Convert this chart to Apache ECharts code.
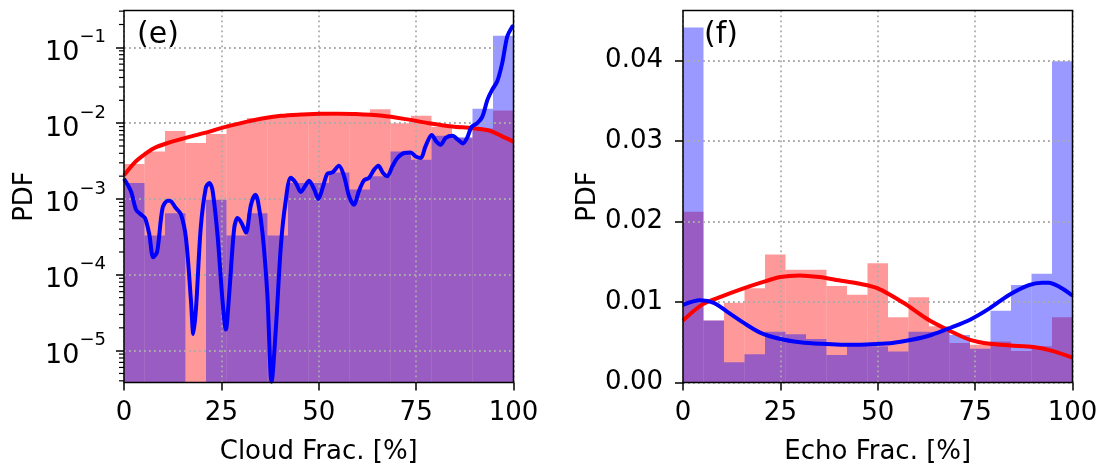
<!DOCTYPE html>
<html><head><meta charset="utf-8">
<script src="https://cdn.jsdelivr.net/npm/echarts@6/dist/echarts.min.js"></script>
<style>html,body{margin:0;padding:0;background:#fff}#c{width:1100px;height:464px}</style>
</head><body><div id="c"></div>
<script>
// ---------- data ----------
const binEdges = [0, 5.263, 10.526, 15.789, 21.053, 26.316, 31.579, 36.842, 42.105, 47.368, 52.632, 57.895, 63.158, 68.421, 73.684, 78.947, 84.211, 89.474, 94.737, 100];
const xTicks = [0, 25, 50, 75, 100];

// panel (e): Cloud fraction, log PDF
const cloudRedHist  = [0.0029, 0.00424, 0.0079, 0.00547, 0.0072, 0.0098, 0.0117, 0.0122, 0.0125, 0.0128, 0.0126, 0.0127, 0.0153, 0.0100, 0.0125, 0.0089, 0.0063, 0.0085, 0.0147];
const cloudBlueHist = [0.00163, 0.00033, 0.00065, null, 0.00098, 0.00033, 0.00065, 0.00033, 0.00163, 0.00163, 0.00224, 0.00133, 0.00199, 0.00424, 0.0033, 0.00682, 0.0065, 0.0155, 0.142];
const cloudRedKde = [[0,2.05e-3],[2.6,2.98e-3],[5.2,3.84e-3],[7.8,4.7e-3],[11.2,5.47e-3],[16.3,6.5e-3],[21.5,7.6e-3],[24.9,8.6e-3],[30,1.0e-2],[35.1,1.14e-2],[40.3,1.25e-2],[45.4,1.3e-2],[50.5,1.33e-2],[55,1.33e-2],[59.5,1.32e-2],[66.3,1.25e-2],[72.3,1.13e-2],[78.3,1.0e-2],[84.3,9.05e-3],[89.4,8.6e-3],[93.7,8.0e-3],[97.1,6.7e-3],[100,5.7e-3]];
const cloudBlueKde = [[0,1.85e-3],[1.8,1.26e-3],[3.1,7.2e-4],[4.4,6.2e-4],[5.4,5.6e-4],[6.5,3.4e-4],[7.5,1.7e-4],[8.5,2.0e-4],[9.9,7.6e-4],[11.2,9.5e-4],[12.1,9.3e-4],[13.3,7.6e-4],[14.6,6.3e-4],[15.9,3.06e-4],[17.2,4.5e-5],[17.8,1.66e-5],[18.5,3.7e-5],[19.7,4.15e-4],[21.0,1.4e-3],[21.9,1.63e-3],[22.7,1.33e-3],[24.0,3.4e-4],[25.3,4.5e-5],[26.15,1.9e-5],[27.0,5.5e-5],[28.3,4.15e-4],[29.15,5.6e-4],[30.2,4.8e-4],[31.3,3.6e-4],[32.6,8.4e-4],[33.7,1.14e-3],[34.4,9.3e-4],[35.6,3.4e-4],[36.8,5.5e-5],[37.9,3.9e-6],[39.0,2e-5],[40.3,2.5e-4],[41.5,9.3e-4],[42.8,1.9e-3],[44.1,1.63e-3],[45.4,1.24e-3],[46.7,1.54e-3],[47.5,1.74e-3],[48.8,1.35e-3],[49.9,1.0e-3],[51.0,1.4e-3],[52.2,2.15e-3],[53.5,2.24e-3],[55.2,2.75e-3],[56.5,2.0e-3],[57.8,1.08e-3],[59.0,8.4e-4],[60.3,1.26e-3],[61.6,1.76e-3],[62.9,1.9e-3],[64.2,2.43e-3],[65.3,2.75e-3],[66.5,2.2e-3],[67.6,2.0e-3],[68.9,2.7e-3],[70.2,3.47e-3],[71.9,4.04e-3],[73.6,4.1e-3],[74.9,3.64e-3],[76.2,3.47e-3],[77.4,4.93e-3],[79.0,7.0e-3],[80.2,5.7e-3],[81.3,5.2e-3],[82.6,6.4e-3],[84.3,6.8e-3],[85.8,6.0e-3],[87.0,5.4e-3],[88.1,6.4e-3],[89.2,8.9e-3],[90.7,1.0e-2],[92.0,1.22e-2],[93.3,2.03e-2],[94.5,2.75e-2],[95.8,3.54e-2],[97.1,6.2e-2],[98.4,0.139],[99.7,0.188],[100,0.19]];
const logTicks = [1e-5, 1e-4, 1e-3, 1e-2, 1e-1];

// panel (f): Echo fraction, linear PDF
const echoRedHist  = [0.0212, 0.0077, 0.0099, 0.0117, 0.0159, 0.014, 0.014, 0.012, 0.0109, 0.0148, 0.0081, 0.0106, 0.0070, 0.0049, 0.0047, 0.0051, 0.0039, 0.0045, 0.0081];
const echoBlueHist = [0.0441, 0.0077, 0.0025, 0.0035, 0.0063, 0.0060, 0.0054, 0.0034, 0.0046, 0.0045, 0.00385, 0.0063, 0.0063, 0.0059, 0.0042, 0.0089, 0.0121, 0.0135, 0.0399];
const echoRedKde = [[0,0.0077],[5,0.0097],[10,0.0107],[15,0.0116],[20,0.0124],[25,0.0131],[30,0.0133],[35,0.0131],[40,0.0127],[45,0.0123],[50,0.0117],[56.6,0.0099],[63,0.0078],[69,0.0063],[73.7,0.0053],[78.8,0.0048],[84,0.0046],[90,0.0044],[95,0.0039],[100,0.0031]];
const echoBlueKde = [[0,0.00965],[4.4,0.0102],[7.9,0.0099],[11.3,0.0088],[15.6,0.0074],[19.8,0.0062],[25,0.0054],[30.1,0.0050],[35.2,0.0048],[40.4,0.0047],[45.5,0.0047],[50.6,0.0048],[53.7,0.0049],[58.7,0.0053],[63.7,0.0059],[68.7,0.0068],[73.7,0.0078],[78.7,0.0092],[83.8,0.0109],[88.8,0.0121],[92.2,0.0124],[93.9,0.0124],[96.9,0.0118],[100,0.0108]];
const linTicks = [0, 0.01, 0.02, 0.03, 0.04];

// ---------- helpers ----------
const FONT = 'DejaVu Sans';
const FS = 26;
const LOG_MIN = 3.8e-6, LOG_MAX = 0.306;
const LIN_MAX = 0.0462;
const logMinor = [];
for (let e = -6; e <= -1; e++) for (let k = 2; k <= 9; k++) { const v = k * Math.pow(10, e); if (v > LOG_MIN && v < LOG_MAX) logMinor.push(v); }

function histData(h) {
  const out = [];
  h.forEach((v, i) => { if (v != null && v > 0) out.push([binEdges[i], binEdges[i + 1], v]); });
  return out;
}
function histSeries(h, color, xi, yi, base) {
  return {
    type: 'custom', xAxisIndex: xi, yAxisIndex: yi, z: 2, clip: true,
    encode: { x: [0, 1], y: 2 },
    data: histData(h),
    renderItem: function (params, api) {
      const p0 = api.coord([api.value(0), api.value(2)]);
      const p1 = api.coord([api.value(1), base]);
      return { type: 'rect', shape: { x: p0[0], y: p0[1], width: p1[0] - p0[0], height: p1[1] - p0[1] }, style: { fill: color } };
    }
  };
}
function lineSeries(d, color, xi, yi) {
  return { type: 'line', xAxisIndex: xi, yAxisIndex: yi, data: d, showSymbol: false, smooth: 0.3, z: 4, clip: true,
    lineStyle: { color: color, width: 4 }, emphasis: { disabled: true } };
}
// minor log ticks drawn through the log y scale
const minorTickSeries = {
  type: 'custom', xAxisIndex: 0, yAxisIndex: 0, z: 5, clip: false, silent: true,
  encode: { x: 0, y: 1 },
  data: logMinor.map(v => [0, v]),
  renderItem: function (params, api) {
    const c = api.coord([0, api.value(1)]);
    return { type: 'line', shape: { x1: c[0] - 5, y1: c[1], x2: c[0], y2: c[1] }, style: { stroke: '#000', lineWidth: 1.2 } };
  }
};
const gridLine = { show: true, lineStyle: { color: '#aaaaaa', width: 1.8, type: [1.8, 3.2] } };
const tickStyle = { show: true, length: 8, lineStyle: { color: '#000', width: 1.5 } };

function xAxisOpt(gi, name) {
  return { gridIndex: gi, type: 'value', min: 0, max: 100, interval: 25, z: 3,
    name: name, nameLocation: 'middle', nameGap: 57,
    nameTextStyle: { fontSize: FS, color: '#000', fontFamily: FONT },
    axisLine: { show: false }, axisTick: Object.assign({ customValues: xTicks }, tickStyle),
    axisLabel: { customValues: xTicks, fontSize: FS, color: '#000', fontFamily: FONT, margin: 18 },
    splitLine: gridLine };
}
const gridBase = { top: 10.5, width: 389.5, height: 372, show: true, borderColor: '#000', borderWidth: 1.5,
  backgroundColor: 'transparent', z: 10, containLabel: false, outerBoundsMode: 'none' };

const option = {
  animation: false,
  textStyle: { fontFamily: FONT, color: '#000' },
  grid: [
    Object.assign({ left: 124 }, gridBase),
    Object.assign({ left: 683 }, gridBase)
  ],
  xAxis: [ xAxisOpt(0, 'Cloud Frac. [%]'), xAxisOpt(1, 'Echo Frac. [%]') ],
  yAxis: [
    { gridIndex: 0, type: 'log', logBase: 10, min: LOG_MIN, max: LOG_MAX, z: 3, position: 'left',
      name: 'PDF', nameLocation: 'middle', nameRotate: 90, nameGap: 86,
      nameTextStyle: { fontSize: FS, color: '#000', fontFamily: FONT },
      axisLine: { show: false },
      axisTick: Object.assign({ customValues: logTicks }, tickStyle),
      axisLabel: { customValues: logTicks, margin: 18,
        formatter: function (v) { const e = Math.round(Math.log10(v)); if (Math.abs(Math.log10(v) - e) > 1e-6) return ''; return '{b|10}{s|\u2212' + Math.abs(e) + '}'; },
        rich: { b: { fontSize: 27, lineHeight: 38, verticalAlign: 'bottom', color: '#000', fontFamily: FONT },
                s: { fontSize: 18, lineHeight: 20, verticalAlign: 'top', color: '#000', fontFamily: FONT } } },
      splitLine: gridLine },
    { gridIndex: 1, type: 'value', min: 0, max: LIN_MAX, interval: 0.01, z: 3, position: 'left',
      name: 'PDF', nameLocation: 'middle', nameRotate: 90, nameGap: 78,
      nameTextStyle: { fontSize: FS, color: '#000', fontFamily: FONT },
      axisLine: { show: false },
      axisTick: Object.assign({ customValues: linTicks }, tickStyle),
      axisLabel: { customValues: linTicks, fontSize: FS, color: '#000', fontFamily: FONT, margin: 20,
        formatter: function (v) { return v.toFixed(2); } },
      splitLine: gridLine }
  ],
  graphic: [
    { type: 'text', left: 137, top: 20, style: { text: '(e)', font: '30px "DejaVu Sans"', fill: '#000' }, z: 20 },
    { type: 'text', left: 704, top: 20, style: { text: '(f)', font: '30px "DejaVu Sans"', fill: '#000' }, z: 20 }
  ],
  series: [
    histSeries(cloudRedHist, 'rgba(255,0,0,0.4)', 0, 0, LOG_MIN),
    histSeries(cloudBlueHist, 'rgba(0,0,255,0.4)', 0, 0, LOG_MIN),
    lineSeries(cloudRedKde, '#ff0000', 0, 0),
    lineSeries(cloudBlueKde, '#0000ff', 0, 0),
    minorTickSeries,
    histSeries(echoRedHist, 'rgba(255,0,0,0.4)', 1, 1, 0),
    histSeries(echoBlueHist, 'rgba(0,0,255,0.4)', 1, 1, 0),
    lineSeries(echoRedKde, '#ff0000', 1, 1),
    lineSeries(echoBlueKde, '#0000ff', 1, 1)
  ]
};
const chart = echarts.init(document.getElementById('c'), null, { renderer: 'canvas' });
chart.setOption(option);
</script></body></html>
